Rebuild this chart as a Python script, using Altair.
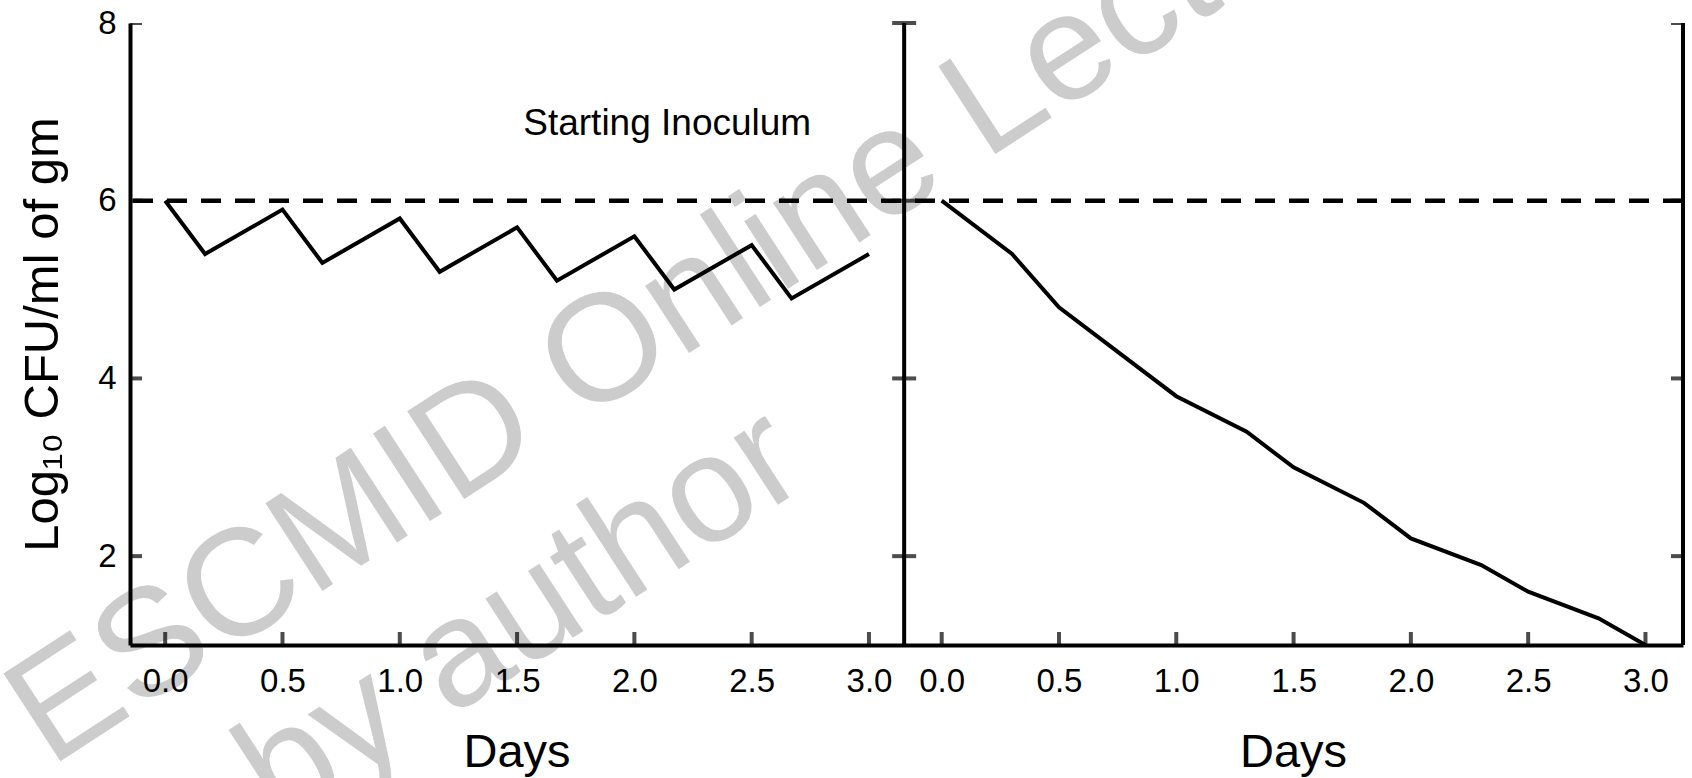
import altair as alt
import pandas as pd

FONT = "Liberation Sans"

# ---- data ----
left_days = [0.0, 0.17, 0.5, 0.67, 1.0, 1.17, 1.5, 1.67, 2.0, 2.17, 2.5, 2.67, 3.0]
left_cfu = [6.0, 5.4, 5.9, 5.3, 5.8, 5.2, 5.7, 5.1, 5.6, 5.0, 5.5, 4.9, 5.4]

right_days = [0.0, 0.3, 0.5, 1.0, 1.3, 1.5, 1.8, 2.0, 2.3, 2.5, 2.8, 3.0]
right_cfu = [6.0, 5.4, 4.8, 3.8, 3.4, 3.0, 2.6, 2.2, 1.9, 1.6, 1.3, 1.0]

x_ticks = [0.0, 0.5, 1.0, 1.5, 2.0, 2.5, 3.0]
y_ticks = [2, 4, 6, 8]
inoculum = [6.0]
y_domain = [1, 8]
left_x_domain = [-0.15, 3.15]
right_x_domain = [-0.16, 3.16]

annotation = ["Starting Inoculum"]
annotation_pos = [2.14, 6.74]
x_title = "Days"
y_title = "Log\u2081\u2080 CFU/ml of gm"
watermark = ["ESCMID Online Lecture Library", "by author"]

# ---- two panels share one continuous x scale; the right panel is shifted ----
offset = left_x_domain[1] - right_x_domain[0]
x_domain = [left_x_domain[0], right_x_domain[1] + offset]
divider = left_x_domain[1]

lines = pd.concat([
    pd.DataFrame({"xpos": left_days, "y": left_cfu, "panel": "left"}),
    pd.DataFrame({"xpos": [d + offset for d in right_days], "y": right_cfu, "panel": "right"}),
])

tick_pos = x_ticks + [t + offset for t in x_ticks]

xscale = alt.Scale(domain=x_domain, nice=False, zero=False)
yscale = alt.Scale(domain=y_domain, nice=False, zero=False)

xaxis = alt.Axis(
    values=tick_pos,
    labelExpr=f"datum.value > {divider} ? format(datum.value - {offset}, '.1f') : format(datum.value, '.1f')",
    title=None, grid=False, ticks=False, tickSize=0,
    domainColor="black", domainWidth=4,
    labelFont=FONT, labelFontSize=33, labelColor="black", labelPadding=20,
    labelOverlap=False, labelFlush=False, zindex=1,
)
yaxis = alt.Axis(
    values=y_ticks, format="d",
    title=y_title, titleFont=FONT, titleFontSize=49, titleFontWeight="normal",
    titleColor="black", titlePadding=30,
    grid=False, ticks=False, tickSize=0,
    domainColor="black", domainWidth=4,
    labelFont=FONT, labelFontSize=33, labelColor="black", labelPadding=14,
    zindex=1,
)


def X(field="xpos"):
    return alt.X(f"{field}:Q", scale=xscale, axis=xaxis)


def Y(field="y"):
    return alt.Y(f"{field}:Q", scale=yscale, axis=yaxis)


# watermark (light grey, diagonal)
wm1 = alt.Chart(pd.DataFrame({"t": [watermark[0]]})).mark_text(
    font=FONT, fontSize=152, color="#cccccc", angle=327, align="left", baseline="alphabetic"
).encode(x=alt.value(-80), y=alt.value(745), text="t:N")
wm2 = alt.Chart(pd.DataFrame({"t": [watermark[1]]})).mark_text(
    font=FONT, fontSize=152, color="#cccccc", angle=327, align="left", baseline="alphabetic"
).encode(x=alt.value(150), y=alt.value(805), text="t:N")

dashed = alt.Chart(pd.DataFrame({"y": inoculum})).mark_rule(
    color="black", strokeWidth=4.5, strokeDash=[20, 14]
).encode(y=Y())

curves = alt.Chart(lines).mark_line(
    color="black", strokeWidth=4, strokeJoin="miter"
).encode(x=X(), y=Y(), detail="panel:N")

frame = alt.Chart(pd.DataFrame({"xpos": [divider, x_domain[1]]})).mark_rule(
    color="black", strokeWidth=4
).encode(x=X())

xt = alt.Chart(pd.DataFrame({"xpos": tick_pos, "y": [y_domain[0]] * len(tick_pos)})).mark_tick(
    orient="vertical", size=26, thickness=4, color="black", clip=True
).encode(x=X(), y=Y())

yt_left = alt.Chart(pd.DataFrame({"xpos": [x_domain[0]] * len(y_ticks), "y": y_ticks})).mark_tick(
    orient="horizontal", size=24, thickness=4, color="black", clip=True
).encode(x=X(), y=Y())
yt_div = alt.Chart(pd.DataFrame({"xpos": [divider] * len(y_ticks), "y": y_ticks})).mark_tick(
    orient="horizontal", size=24, thickness=4, color="black"
).encode(x=X(), y=Y())
yt_right = alt.Chart(pd.DataFrame({"xpos": [x_domain[1]] * len(y_ticks), "y": y_ticks})).mark_tick(
    orient="horizontal", size=24, thickness=4, color="black", clip=True
).encode(x=X(), y=Y())

label = alt.Chart(pd.DataFrame({"xpos": [annotation_pos[0]], "y": [annotation_pos[1]], "t": annotation})).mark_text(
    font=FONT, fontSize=37, color="black", align="center", baseline="alphabetic"
).encode(x=X(), y=Y(), text="t:N")

days = alt.Chart(pd.DataFrame({"xpos": [1.5, 1.5 + offset], "t": [x_title, x_title]})).mark_text(
    font=FONT, fontSize=47, color="black", align="center", baseline="alphabetic"
).encode(x=X(), y=alt.value(744), text="t:N")

chart = alt.layer(
    wm1, wm2, dashed, curves, frame, xt, yt_left, yt_div, yt_right, label, days
).properties(
    width=1553, height=622,
    padding={"left": 130, "top": 23, "right": 9, "bottom": 133},
    autosize=alt.AutoSizeParams(type="none"),
    background="white",
).configure_view(stroke=None)

chart.save("out.html", embed_options={"renderer": "svg", "actions": False})
